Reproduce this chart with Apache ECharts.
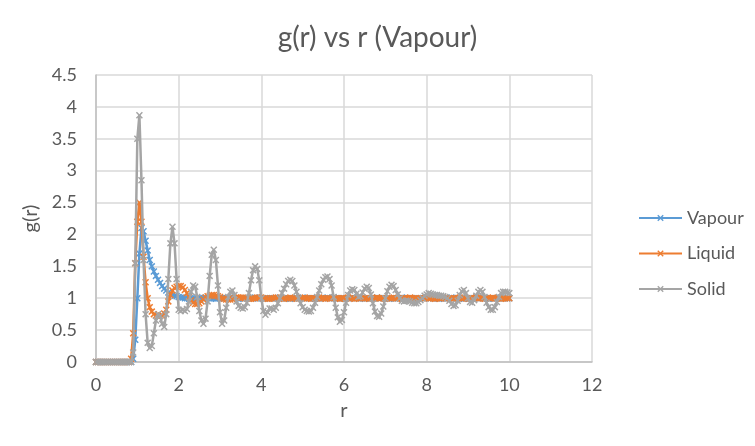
<!DOCTYPE html>
<html>
<head>
<meta charset="utf-8">
<script src="https://cdn.jsdelivr.net/npm/echarts@6/dist/echarts.min.js"></script>
<style>
html,body{margin:0;padding:0;background:#fff;}
#chart{width:755px;height:446px;}
</style>
</head>
<body>
<div id="chart"></div>
<script>
// r values (step 0.05)
var rValues = [
0,0.05,0.1,0.15,0.2,0.25,0.3,0.35,0.4,0.45,
0.5,0.55,0.6,0.65,0.7,0.75,0.8,0.85,0.9,0.95,
1,1.05,1.1,1.15,1.2,1.25,1.3,1.35,1.4,1.45,
1.5,1.55,1.6,1.65,1.7,1.75,1.8,1.85,1.9,1.95,
2,2.05,2.1,2.15,2.2,2.25,2.3,2.35,2.4,2.45,
2.5,2.55,2.6,2.65,2.7,2.75,2.8,2.85,2.9,2.95,
3,3.05,3.1,3.15,3.2,3.25,3.3,3.35,3.4,3.45,
3.5,3.55,3.6,3.65,3.7,3.75,3.8,3.85,3.9,3.95,
4,4.05,4.1,4.15,4.2,4.25,4.3,4.35,4.4,4.45,
4.5,4.55,4.6,4.65,4.7,4.75,4.8,4.85,4.9,4.95,
5,5.05,5.1,5.15,5.2,5.25,5.3,5.35,5.4,5.45,
5.5,5.55,5.6,5.65,5.7,5.75,5.8,5.85,5.9,5.95,
6,6.05,6.1,6.15,6.2,6.25,6.3,6.35,6.4,6.45,
6.5,6.55,6.6,6.65,6.7,6.75,6.8,6.85,6.9,6.95,
7,7.05,7.1,7.15,7.2,7.25,7.3,7.35,7.4,7.45,
7.5,7.55,7.6,7.65,7.7,7.75,7.8,7.85,7.9,7.95,
8,8.05,8.1,8.15,8.2,8.25,8.3,8.35,8.4,8.45,
8.5,8.55,8.6,8.65,8.7,8.75,8.8,8.85,8.9,8.95,
9,9.05,9.1,9.15,9.2,9.25,9.3,9.35,9.4,9.45,
9.5,9.55,9.6,9.65,9.7,9.75,9.8,9.85,9.9,9.95,
10
];

var vapour = [
0,0,0,0,0,0,0,0,0,0,
0,0,0,0,0,0,0,0,0.05,0.35,
1.0,1.7,2.1,2.05,1.9,1.75,1.6,1.5,1.42,1.35,
1.29,1.24,1.19,1.15,1.12,1.09,1.07,1.05,1.04,1.03,
1.02,1.01,1.01,1.0,1.0,0.99,0.99,0.99,1.0,1.0,
1.0,1.0,1.0,1.01,1.0,1.0,1.0,1.0,0.99,1.0,
1.0,1.0,1.0,1.0,1.0,1.01,1.0,1.0,1.0,0.99,
1.0,1.0,1.0,1.0,1.0,1.0,1.0,1.01,1.0,1.0,
1.0,0.99,1.0,1.0,1.0,1.0,1.0,1.0,1.0,1.01,
1.0,1.0,1.0,1.0,0.99,1.0,1.0,1.0,1.0,1.0,
1.01,1.0,1.0,1.0,1.0,1.0,0.99,1.0,1.0,1.0,
1.0,1.0,1.01,1.0,1.0,1.0,1.0,1.0,0.99,1.0,
1.0,1.0,1.0,1.0,1.01,1.0,1.0,1.0,1.0,1.0,
0.99,1.0,1.0,1.0,1.0,1.0,1.01,1.0,1.0,1.0,
1.0,1.0,0.99,1.0,1.0,1.0,1.0,1.0,1.01,1.0,
1.0,1.0,1.0,1.0,0.99,1.0,1.0,1.0,1.0,1.0,
1.01,1.0,1.0,1.0,1.0,1.0,0.99,1.0,1.0,1.0,
1.0,1.0,1.01,1.0,1.0,1.0,1.0,1.0,0.99,1.0,
1.0,1.0,1.0,1.0,1.01,1.0,1.0,1.0,1.0,1.0,
0.99,1.0,1.0,1.0,1.0,1.0,1.01,1.0,1.0,1.0,
1.0
];

var liquid = [
0,0,0,0,0,0,0,0,0,0,
0,0,0,0,0,0,0,0.05,0.45,1.55,
2.2,2.5,2.2,1.65,1.25,1.0,0.86,0.79,0.75,0.73,
0.72,0.72,0.73,0.76,0.82,0.95,1.05,1.12,1.16,1.18,
1.19,1.19,1.17,1.13,1.08,1.02,0.97,0.93,0.91,0.91,
0.92,0.95,0.98,1.01,1.03,1.04,1.05,1.05,1.04,1.03,
1.02,1.0,0.99,0.98,0.98,0.98,0.99,1.0,1.01,1.01,
1.01,1.01,1.0,1.0,0.99,0.99,1.0,1.0,1.01,1.01,
1.01,1.0,1.0,0.99,0.99,1.0,1.0,1.01,1.01,1.0,
1.0,0.99,1.0,1.0,1.01,1.0,1.0,0.99,1.0,1.0,
1.0,1.01,1.0,1.0,0.99,1.0,1.0,1.0,1.01,1.0,
1.0,0.99,1.0,1.0,1.0,1.01,1.0,1.0,0.99,1.0,
1.0,1.0,1.01,1.0,1.0,0.99,1.0,1.0,1.0,1.01,
1.0,1.0,0.99,1.0,1.0,1.0,1.01,1.0,1.0,1.0,
0.99,1.0,1.0,1.0,1.01,1.0,1.0,1.0,0.99,1.0,
1.0,1.0,1.01,1.0,1.0,1.0,0.99,1.0,1.0,1.0,
1.01,1.0,1.0,1.0,0.99,1.0,1.0,1.0,1.01,1.0,
1.0,1.0,0.99,1.0,1.0,1.0,1.01,1.0,1.0,1.0,
0.99,1.0,1.0,1.0,1.01,1.0,1.0,1.0,0.99,1.0,
1.0,1.0,1.01,1.0,1.0,1.0,0.99,1.0,1.0,1.0,
1.0
];

var solid = [
0,0,0,0,0,0,0,0,0,0,
0,0,0,0,0,0,0,0,0.15,1.55,
3.5,3.87,2.85,1.6,0.75,0.3,0.22,0.25,0.45,0.65,
0.75,0.72,0.6,0.55,0.75,1.3,1.86,2.12,1.86,1.3,
0.82,0.8,0.82,0.8,0.83,0.95,1.1,1.2,1.18,1.02,
0.8,0.65,0.6,0.68,0.95,1.35,1.68,1.76,1.6,1.2,
0.78,0.6,0.65,0.85,1.02,1.1,1.12,1.05,0.95,0.88,
0.85,0.84,0.86,0.93,1.08,1.28,1.44,1.5,1.46,1.28,
1.0,0.8,0.74,0.78,0.84,0.84,0.82,0.85,0.92,1.0,
1.08,1.15,1.22,1.27,1.29,1.27,1.2,1.1,1.0,0.92,
0.86,0.82,0.8,0.79,0.8,0.85,0.93,1.02,1.12,1.22,
1.29,1.33,1.34,1.3,1.2,1.02,0.85,0.7,0.63,0.66,
0.78,0.93,1.05,1.12,1.14,1.13,1.07,1.02,1.03,1.09,
1.15,1.18,1.16,1.06,0.92,0.79,0.72,0.71,0.76,0.87,
1.0,1.11,1.18,1.21,1.19,1.13,1.06,1.0,0.96,0.95,
0.96,0.96,0.95,0.93,0.92,0.92,0.94,0.97,1.0,1.04,
1.06,1.08,1.07,1.06,1.05,1.05,1.04,1.04,1.03,1.02,
1.0,0.96,0.91,0.88,0.89,0.96,1.05,1.11,1.13,1.08,
1.0,0.94,0.93,0.97,1.04,1.1,1.13,1.1,1.02,0.93,
0.86,0.82,0.82,0.86,0.94,1.02,1.08,1.1,1.1,1.09,
1.08
];

var seriesNames = ['Vapour', 'Liquid', 'Solid'];
var seriesColors = ['#5B9BD5', '#ED7D31', '#A5A5A5'];
var xTicks = [0, 2, 4, 6, 8, 10, 12];
var yTicks = [0, 0.5, 1, 1.5, 2, 2.5, 3, 3.5, 4, 4.5];

var FONT = 'Lato, "Open Sans", sans-serif';
var TXT = '#595959';
var XMARK = 'path://M0,1.5L1.5,0L5,3.5L8.5,0L10,1.5L6.5,5L10,8.5L8.5,10L5,6.5L1.5,10L0,8.5L3.5,5Z';

function pairs(ys) {
  var out = [];
  for (var i = 0; i < rValues.length; i++) out.push([rValues[i], ys[i]]);
  return out;
}
var allData = [vapour, liquid, solid];

var chart = echarts.init(document.getElementById('chart'), null, {renderer: 'canvas'});
chart.setOption({
  animation: false,
  backgroundColor: '#ffffff',
  title: {
    text: 'g(r) vs r (Vapour)',
    left: 'center',
    top: 19,
    textStyle: {fontFamily: FONT, fontSize: 28, fontWeight: 'normal', color: TXT}
  },
  legend: {
    orient: 'vertical',
    left: 633,
    top: 203,
    itemWidth: 43,
    itemHeight: 8,
    itemGap: 15.5,
    data: seriesNames,
    textStyle: {fontFamily: FONT, fontSize: 18, color: TXT, lineHeight: 20}
  },
  grid: {left: 96, right: 163, top: 75, bottom: 84, containLabel: false},
  xAxis: {
    type: 'value',
    min: 0, max: 12, interval: 2,
    name: 'r', nameLocation: 'middle', nameGap: 39,
    nameTextStyle: {fontFamily: FONT, fontSize: 20, color: TXT},
    axisLine: {show: true, lineStyle: {color: '#BFBFBF', width: 1.5}},
    axisTick: {show: false},
    axisLabel: {fontFamily: FONT, fontSize: 18, color: TXT, margin: 14,
      customValues: xTicks},
    splitLine: {show: true, lineStyle: {color: '#D9D9D9', width: 1.5}}
  },
  yAxis: {
    type: 'value',
    min: 0, max: 4.5, interval: 0.5,
    name: 'g(r)', nameLocation: 'middle', nameGap: 50, nameRotate: 90,
    nameTextStyle: {fontFamily: FONT, fontSize: 20, color: TXT},
    axisLine: {show: true, lineStyle: {color: '#BFBFBF', width: 1.5}},
    axisTick: {show: false},
    axisLabel: {fontFamily: FONT, fontSize: 18, color: TXT, margin: 19,
      customValues: yTicks},
    splitLine: {show: true, lineStyle: {color: '#D9D9D9', width: 1.5}}
  },
  series: seriesNames.map(function (name, k) {
    return {
      name: name,
      type: 'line',
      data: pairs(allData[k]),
      symbol: XMARK,
      symbolSize: 7,
      showAllSymbol: true,
      lineStyle: {color: seriesColors[k], width: 2.5},
      itemStyle: {color: seriesColors[k]},
      z: 2 + k
    };
  })
});
</script>
</body>
</html>
